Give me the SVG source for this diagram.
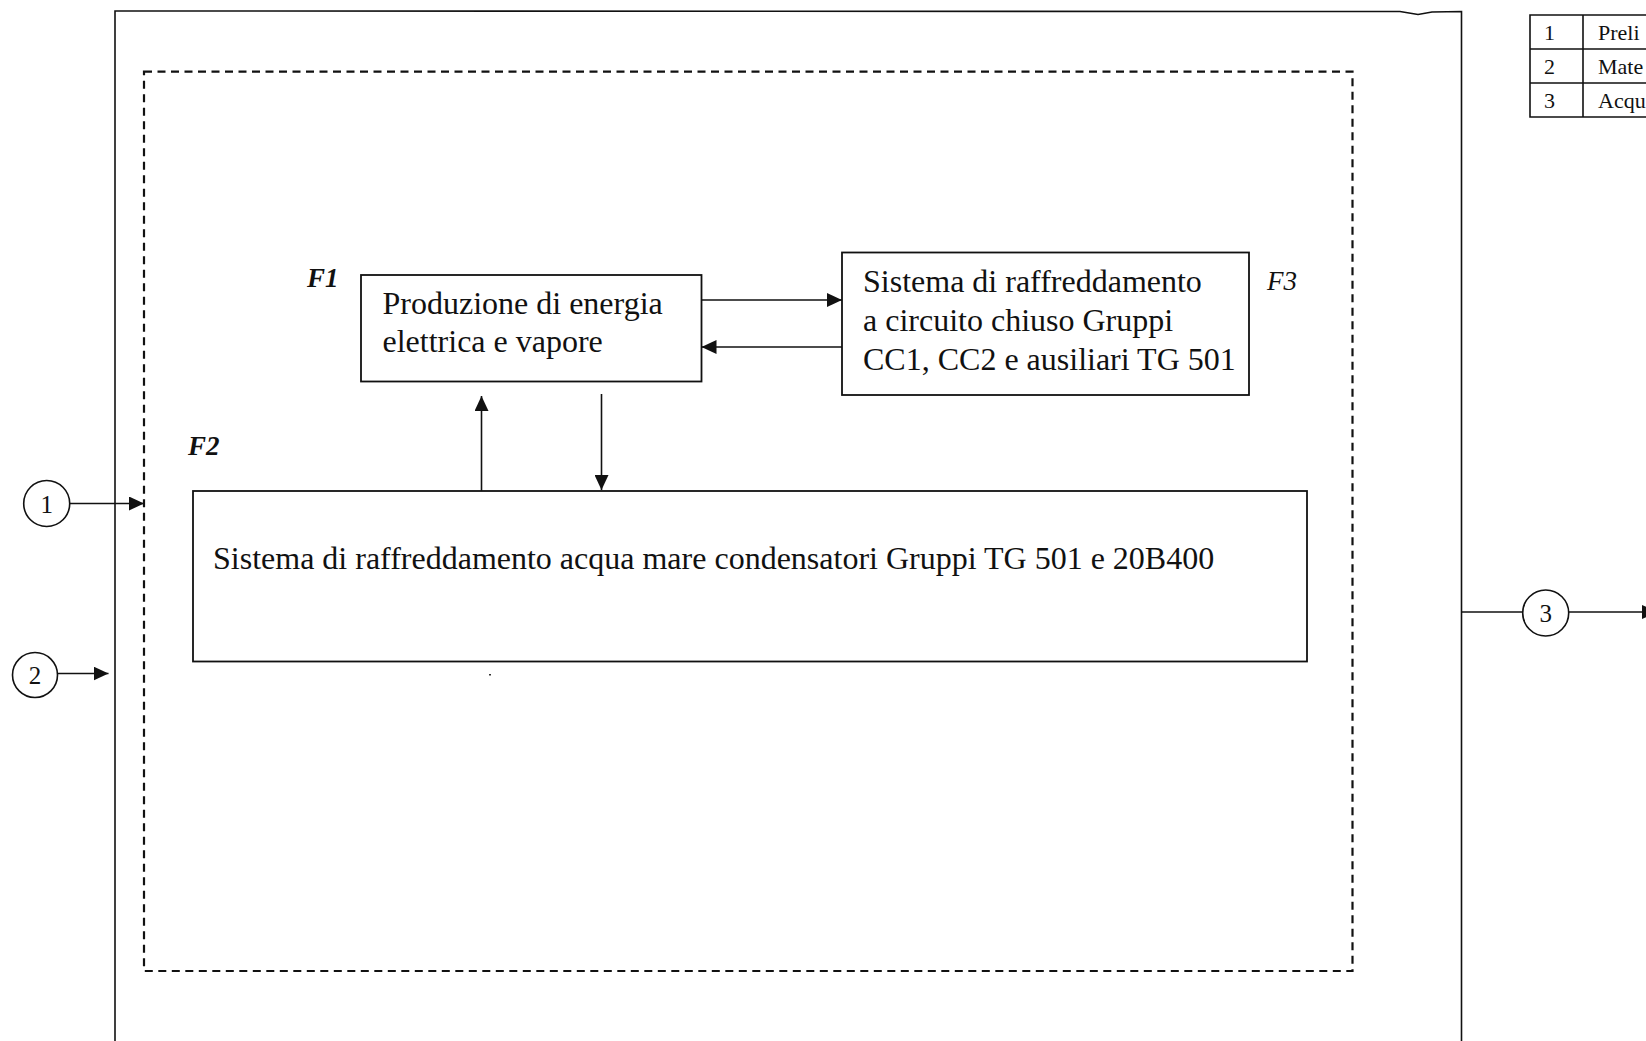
<svg xmlns="http://www.w3.org/2000/svg" width="1646" height="1041" viewBox="0 0 1646 1041">
<style>
  .ln{fill:none;stroke:#111;stroke-width:1.6}
  .box{fill:#fff;stroke:#111;stroke-width:1.8}
  .dash{fill:none;stroke:#111;stroke-width:2.2;stroke-dasharray:8 5.5}
  .t{font-family:"Liberation Serif","Times New Roman",serif;font-size:32px;fill:#111}
  .lbl{font-family:"Liberation Serif","Times New Roman",serif;font-size:27px;font-style:italic;font-weight:bold;fill:#111}
  .num{font-family:"Liberation Serif","Times New Roman",serif;font-size:25px;fill:#111;text-anchor:middle}
  .tab{font-family:"Liberation Serif","Times New Roman",serif;font-size:22px;fill:#111}
  .arr{fill:none;stroke:#111;stroke-width:1.6;marker-end:url(#ah)}
</style>
<defs>
  <marker id="ah" markerUnits="userSpaceOnUse" markerWidth="16" markerHeight="14" refX="15" refY="7" orient="auto">
    <path d="M0,0 L15,7 L0,14 z" fill="#111"/>
  </marker>
</defs>
<rect width="1646" height="1041" fill="#fff"/>

<g id="boundary">
  <path class="ln" d="M115,1045 L115,11 L1400,11.5 L1418,14.5 L1432,12 L1461.5,11.5 L1461.5,1045"/>
  <rect class="dash" x="144" y="71.7" width="1208.5" height="899.3"/>
</g>

<g id="legend">
  <path class="ln" d="M1660,15 H1530 V117 H1660 M1530,49 H1660 M1530,83 H1660 M1583,15 V117"/>
  <text class="tab" x="1544" y="40">1</text>
  <text class="tab" x="1544" y="74">2</text>
  <text class="tab" x="1544" y="108">3</text>
  <text class="tab" x="1598" y="40">Preli</text>
  <text class="tab" x="1598" y="74">Mate</text>
  <text class="tab" x="1598" y="108">Acqu</text>
</g>

<g id="F1">
  <rect class="box" x="361" y="275" width="340.5" height="106.5"/>
  <text class="lbl" x="307" y="287">F1</text>
  <text class="t" x="382.5" y="314">Produzione di energia</text>
  <text class="t" x="382.5" y="352">elettrica e vapore</text>
</g>

<g id="F3">
  <rect class="box" x="842" y="252.5" width="407" height="142.5"/>
  <text class="lbl" x="1267" y="290" style="font-weight:normal">F3</text>
  <text class="t" x="863" y="291.5">Sistema di raffreddamento</text>
  <text class="t" x="863" y="331">a circuito chiuso Gruppi</text>
  <text class="t" x="863" y="370">CC1, CC2 e ausiliari TG 501</text>
</g>

<g id="F2">
  <rect class="box" x="193" y="491" width="1114" height="170.5"/>
  <text class="lbl" x="188" y="455">F2</text>
  <text class="t" x="213" y="569">Sistema di raffreddamento acqua mare condensatori Gruppi TG 501 e 20B400</text>
  <rect x="489" y="674" width="2" height="1.5" fill="#333"/>
</g>

<g id="in1">
  <circle class="ln" cx="46.7" cy="503.5" r="23"/>
  <text class="num" x="46.7" y="512.5">1</text>
</g>
<g id="in2">
  <circle class="ln" cx="35" cy="675" r="22.5"/>
  <text class="num" x="35" y="684">2</text>
</g>
<g id="out3">
  <circle class="ln" cx="1545.7" cy="613" r="23"/>
  <text class="num" x="1545.7" y="622">3</text>
</g>

<g id="connectors">
  <line class="arr" x1="701.5" y1="300" x2="842" y2="300"/>
  <line class="arr" x1="842" y1="347" x2="701.5" y2="347"/>
  <line class="arr" x1="481.5" y1="491" x2="481.5" y2="396"/>
  <line class="arr" x1="601.5" y1="394" x2="601.5" y2="490"/>
  <line class="arr" x1="69.7" y1="503.5" x2="144" y2="503.5"/>
  <line class="arr" x1="57.5" y1="673.5" x2="108.5" y2="673.5"/>
  <line class="ln" x1="1461.5" y1="612" x2="1522.7" y2="612"/>
  <line class="arr" x1="1568.7" y1="612" x2="1657" y2="612"/>
</g>
</svg>
